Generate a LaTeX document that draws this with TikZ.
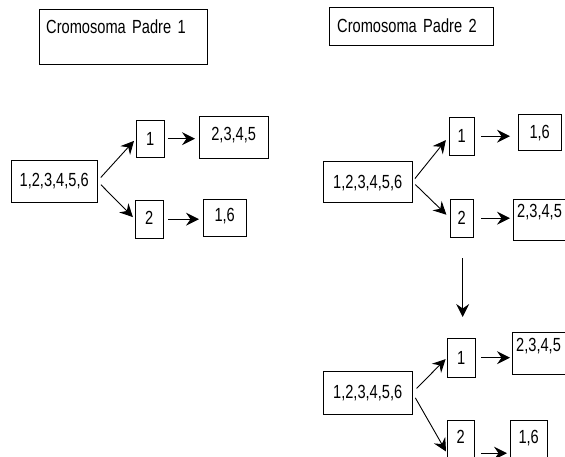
\documentclass[tikz,border=0pt]{standalone}
\usepackage{fontspec}
\setmainfont{Liberation Sans}[FakeStretch=0.77]
\usetikzlibrary{arrows.meta,
	calc,
	positioning}
\tikzstyle{box}=[draw, inner sep=0, anchor=north west, text height=13.5pt, text depth=0pt, font=\fontsize{19}{21}\selectfont]
\tikzstyle{title}=[box, align=left, inner xsep=7pt]
\tikzstyle{cut}=[box, align=left, text width=82pt, inner xsep=4pt]
\tikzstyle{arr}=[-{Stealth[length=13pt, width=13pt, inset=4.5pt]}, line width=0.9pt]

\begin{document}
\begin{tikzpicture}[x=1pt, y=-1pt]
	\useasboundingbox (0,0) rectangle (565,457);
	\clip (0,0) rectangle (565,457);
	% padre 1
	\node[title, text width=154pt, inner ysep=5pt, text height=19pt, text depth=26pt] (t1) at (39,9) {Cromosoma Padre 1};
	\node[box, minimum width=86pt, minimum height=42pt, text depth=3pt] (a0) at (11,160) {1,2,3,4,5,6};
	\node[box, minimum width=28pt, minimum height=37pt] (a1) at (136,120) {1};
	\node[box, minimum width=69pt, minimum height=42pt, text depth=7pt] (a1r) at (199,116) {2,3,4,5};
	\node[box, minimum width=28pt, minimum height=38pt, text depth=3pt] (a2) at (135,200) {2};
	\node[box, minimum width=43pt, minimum height=37pt, text depth=5pt] (a2r) at (203,199) {1,6};
	% padre 2
	\node[title, text width=148pt, minimum height=38pt, inner xsep=8pt] (t2) at (329,7) {Cromosoma Padre 2};
	\node[box, minimum width=89pt, minimum height=41pt] (b0) at (323,161) {1,2,3,4,5,6};
	\node[box, minimum width=25pt, minimum height=38pt] (b1) at (449,117) {1};
	\node[box, minimum width=43pt, minimum height=36pt] (b1r) at (518,114) {1,6};
	\node[box, minimum width=23pt, minimum height=38pt] (b2) at (450,199) {2};
	\node[cut, minimum height=41pt, text depth=17pt] (b2r) at (513,199) {2,3,4,5};
	% resultado
	\node[box, minimum width=89pt, minimum height=43pt, text depth=1pt] (c0) at (323,371) {1,2,3,4,5,6};
	\node[box, minimum width=28pt, minimum height=39pt] (c1) at (447,338) {1};
	\node[cut, minimum height=42pt, text depth=16pt] (c1r) at (512,332) {2,3,4,5};
	\node[box, minimum width=27pt, minimum height=50pt, text depth=16pt] (c2) at (447,420) {2};
	\node[box, minimum width=37pt, minimum height=50pt, text depth=16pt] (c2r) at (510,420) {1,6};

	\draw[arr, shorten <=5pt, shorten >=3pt] (a0.east) -- (a1.west);
	\draw[arr, shorten <=5pt, shorten >=3pt] (a0.east) -- (a2.west);
	\draw[arr, shorten <=4pt, shorten >=4pt] (a1.east) -- (a1.east -| a1r.west);
	\draw[arr, shorten <=5pt, shorten >=4pt] (a2.east) -- (a2.east -| a2r.west);

	\draw[arr, shorten <=4pt, shorten >=5pt] (b0.east) -- (b1.west);
	\draw[arr, shorten <=4pt, shorten >=5pt] (b0.east) -- (b2.west);
	\draw[arr, shorten <=7pt, shorten >=8pt] (b1.east) -- (b1.east -| b1r.west);
	\draw[arr, shorten <=8pt, shorten >=3pt] (b2.east) -- (b2.east -| b2r.west);

	\draw[arr, shorten <=21pt, shorten >=21pt] ([xshift=1pt]b2.south) -- ([xshift=1pt]b2.south |- c1.north);

	\draw[arr, shorten <=6pt, shorten >=2pt] (c0.east) -- (c1.west);
	\draw[arr, shorten <=6pt, shorten >=2pt] (c0.east) -- ([yshift=-8pt]c2.west);
	\draw[arr, shorten <=6pt, shorten >=2pt] (c1.east) -- (c1.east -| c1r.west);
	\draw[arr, shorten <=7pt, shorten >=3pt] ([yshift=-8pt]c2.east) -- ([yshift=-8pt]c2.east -| c2r.west);
\end{tikzpicture}
\end{document}
